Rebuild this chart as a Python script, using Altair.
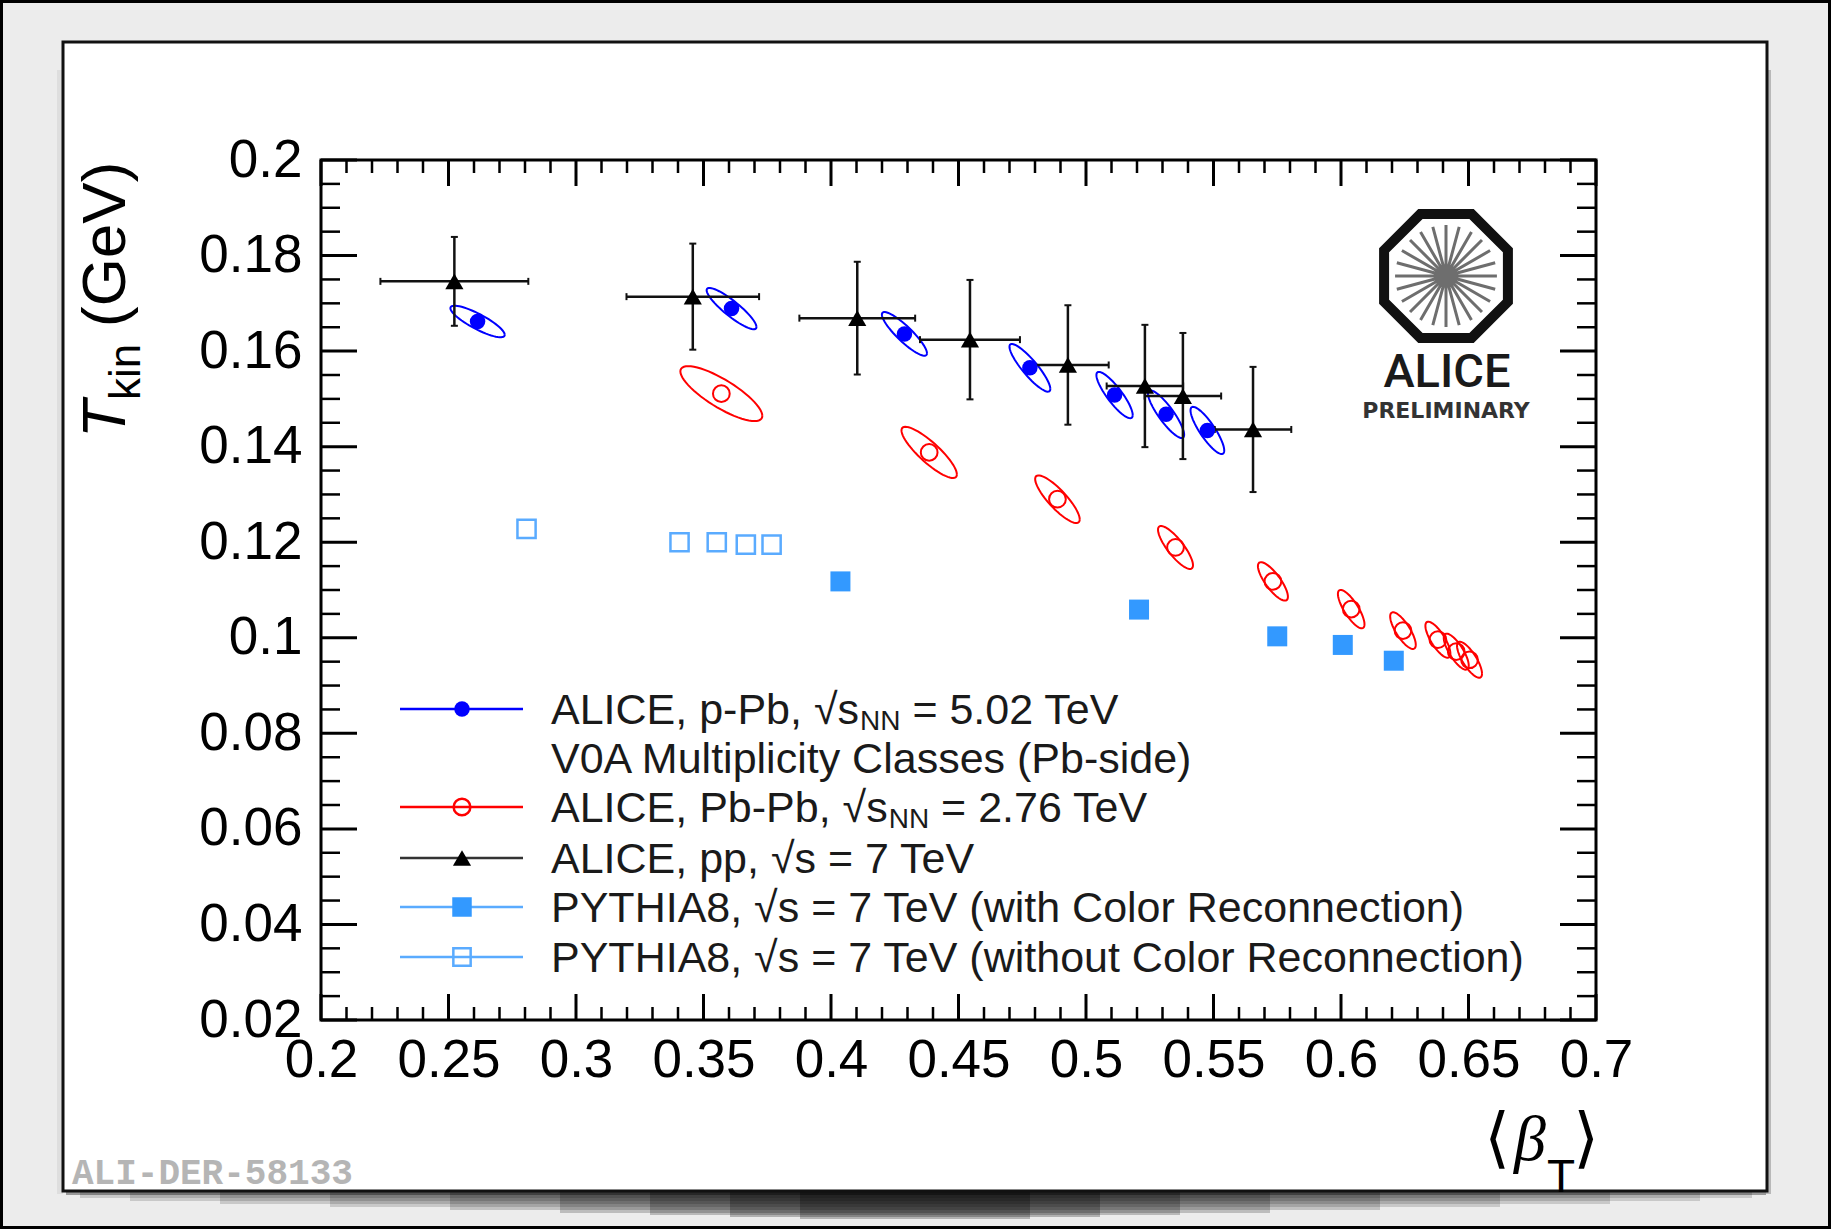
import math
import pandas as pd
import altair as alt

# ------------------------------------------------------------------ data
# ALICE pp, sqrt(s) = 7 TeV  (black triangles, with x and y errors)
pp_beta = [0.2523, 0.3458, 0.4103, 0.4545, 0.4929, 0.5231, 0.5380, 0.5655]
pp_T = [0.1746, 0.1714, 0.1669, 0.1624, 0.1571, 0.1527, 0.1506, 0.1436]
pp_beta_err = [0.0290, 0.0260, 0.0227, 0.0196, 0.0160, 0.0150, 0.0150, 0.0150]
pp_T_err = [0.0093, 0.0111, 0.0118, 0.0125, 0.0125, 0.0128, 0.0132, 0.0131]

# ALICE p-Pb 5.02 TeV (blue filled circles + correlation ellipses)
ppb_beta = [0.2614, 0.3610, 0.4288, 0.4780, 0.5112, 0.5314, 0.5476]
ppb_T = [0.1662, 0.1689, 0.1636, 0.1565, 0.1508, 0.1468, 0.1434]
ppb_sx = [0.01065, 0.00977, 0.00884, 0.00801, 0.00712, 0.00709, 0.00661]
ppb_sy = [0.00330, 0.00432, 0.00457, 0.00499, 0.00485, 0.00499, 0.00494]
ppb_rho = [-0.845, -0.889, -0.886, -0.883, -0.862, -0.864, -0.849]

# ALICE Pb-Pb 2.76 TeV (red open circles + correlation ellipses)
pbpb_beta = [0.3570, 0.4385, 0.4888, 0.5351, 0.5733, 0.6040, 0.6243, 0.6380, 0.6452, 0.6504]
pbpb_T = [0.1511, 0.1388, 0.1290, 0.1189, 0.1118, 0.1060, 0.1015, 0.0996, 0.0971, 0.0954]
pbpb_sx = [0.01607, 0.01086, 0.00874, 0.00686, 0.00588, 0.00521, 0.00502, 0.00490, 0.00490, 0.00490]
pbpb_sy = [0.00575, 0.00536, 0.00498, 0.00450, 0.00402, 0.00402, 0.00383, 0.00377, 0.00377, 0.00377]
pbpb_rho = [-0.810, -0.858, -0.847, -0.826, -0.797, -0.790, -0.773, -0.770, -0.770, -0.770]

# PYTHIA8 7 TeV with / without colour reconnection
cr_beta = [0.4037, 0.5208, 0.5750, 0.6007, 0.6207]
cr_T = [0.1118, 0.1059, 0.1003, 0.0985, 0.0952]
nocr_beta = [0.2806, 0.3406, 0.3552, 0.3666, 0.3767]
nocr_T = [0.1228, 0.1200, 0.1200, 0.1195, 0.1195]

# axis ticks
x_major = [0.2, 0.25, 0.3, 0.35, 0.4, 0.45, 0.5, 0.55, 0.6, 0.65, 0.7]
y_major = [0.02, 0.04, 0.06, 0.08, 0.1, 0.12, 0.14, 0.16, 0.18, 0.2]
x_minor = [round(0.2 + 0.01 * i, 3) for i in range(51) if i % 5]
y_minor = [round(0.02 + 0.005 * i, 4) for i in range(37) if i % 4]

legend_rows = [
    ("ALICE, p-Pb, \u221as", "NN", "= 5.02 TeV"),
    ("V0A Multiplicity Classes (Pb-side)", "", ""),
    ("ALICE, Pb-Pb, \u221as", "NN", "= 2.76 TeV"),
    ("ALICE, pp, \u221as = 7 TeV", "", ""),
    ("PYTHIA8, \u221as = 7 TeV (with Color Reconnection)", "", ""),
    ("PYTHIA8, \u221as = 7 TeV (without Color Reconnection)", "", ""),
]

# ------------------------------------------------------------------ layout
W, H = 1275, 860          # plot area
PX0, PY0 = 321, 160       # plot origin on page
CW, CH = 1831, 1229
BLUE, RED = "#0000ff", "#ff0000"
PY_FILL, PY_OPEN = "#3399ff", "#5aabff"
FONT = "Liberation Sans"

xs = alt.Scale(domain=[0.2, 0.7], nice=False, zero=False)
ys = alt.Scale(domain=[0.02, 0.2], nice=False, zero=False)
common_axis = dict(title=None, grid=False, domain=False, ticks=False, tickSize=0,
                   labelFont=FONT, labelFontSize=53, labelColor="black", zindex=2,
                   labelFlush=False, labelOverlap=False, labelBound=False, format="~g")
xaxis = alt.Axis(values=x_major, labelPadding=14, **common_axis)
yaxis = alt.Axis(values=y_major, labelPadding=19, **common_axis)


def X(f):
    return alt.X(f, type="quantitative", scale=xs, axis=xaxis)


def Y(f):
    return alt.Y(f, type="quantitative", scale=ys, axis=yaxis)


one = pd.DataFrame({"a": [0]})


def px(v):
    return alt.value(v - PX0)


def py(v):
    return alt.value(v - PY0)


def rect(x1, x2, y1, y2, **kw):
    return alt.Chart(one).mark_rect(**kw).encode(x=px(x1), x2=px(x2), y=py(y1), y2=py(y2))


def txt(s, x, y, size, font=FONT, align="left", color="black", **kw):
    return alt.Chart(one).mark_text(text=s, font=font, fontSize=size, align=align,
                                    baseline="alphabetic", color=color, **kw).encode(
        x=px(x), y=py(y))


ARIAL = {" ": 278, ",": 278, "-": 333, ".": 278, "=": 584, "(": 333, ")": 333,
         "A": 667, "C": 722, "E": 667, "I": 278, "L": 556, "N": 722, "P": 667,
         "b": 556, "p": 556, "s": 500, "\u221a": 549}


def tw(s, size):
    return sum(ARIAL.get(c, 556) for c in s) * size / 1000.0


layers = []

# page background, panel and its soft shadow
layers.append(rect(0, CW, 0, CH, fill="#ececec", stroke="black", strokeWidth=6))
for (a, b, h, o) in [(66, 1766, 5, 0.35), (80, 1752, 8, 0.15), (130, 1700, 11, 0.15),
                     (220, 1610, 14, 0.15), (330, 1500, 17, 0.15), (450, 1380, 20, 0.18),
                     (560, 1270, 23, 0.2), (650, 1180, 25, 0.22), (730, 1100, 27, 0.25),
                     (800, 1030, 29, 0.25)]:
    layers.append(rect(a, b, 1190, 1190 + h, fill="black", opacity=o))
layers.append(rect(1766, 1771, 70, 1194, fill="black", opacity=0.22))
layers.append(rect(57, 63, 70, 1194, fill="black", opacity=0.06))
layers.append(rect(63, 1767, 42, 1191, fill="white", stroke="#111111", strokeWidth=3))


# correlation ellipses
def ellipse_df(cx, cy, sx, sy, rho):
    rows = []
    for i in range(len(cx)):
        s = math.sqrt(1 - rho[i] ** 2)
        for k in range(61):
            t = 2 * math.pi * k / 60
            rows.append({"id": i, "k": k,
                         "ex": cx[i] + sx[i] * math.cos(t),
                         "ey": cy[i] + sy[i] * (rho[i] * math.cos(t) + s * math.sin(t))})
    return pd.DataFrame(rows)


for (cx, cy, sx, sy, rho, col) in [(ppb_beta, ppb_T, ppb_sx, ppb_sy, ppb_rho, BLUE),
                                   (pbpb_beta, pbpb_T, pbpb_sx, pbpb_sy, pbpb_rho, RED)]:
    layers.append(alt.Chart(ellipse_df(cx, cy, sx, sy, rho)).mark_line(
        color=col, strokeWidth=2).encode(x=X("ex"), y=Y("ey"), detail="id:N", order="k:Q"))

# pp error bars
pp = pd.DataFrame({"b": pp_beta, "t": pp_T,
                   "xlo": [b - e for b, e in zip(pp_beta, pp_beta_err)],
                   "xhi": [b + e for b, e in zip(pp_beta, pp_beta_err)],
                   "ylo": [t - e for t, e in zip(pp_T, pp_T_err)],
                   "yhi": [t + e for t, e in zip(pp_T, pp_T_err)]})
layers.append(alt.Chart(pp).mark_rule(color="#111111", strokeWidth=2.5).encode(
    x=X("xlo"), x2="xhi", y=Y("t")))
layers.append(alt.Chart(pp).mark_rule(color="#111111", strokeWidth=2.5).encode(
    x=X("b"), y=Y("ylo"), y2="yhi"))
for f in ["xlo", "xhi"]:
    layers.append(alt.Chart(pp).mark_tick(orient="vertical", size=7, thickness=2,
                                          color="#111111", opacity=1).encode(x=X(f), y=Y("t")))
for f in ["ylo", "yhi"]:
    layers.append(alt.Chart(pp).mark_tick(orient="horizontal", size=7, thickness=2,
                                          color="#111111", opacity=1).encode(x=X("b"), y=Y(f)))

# markers
layers.append(alt.Chart(pd.DataFrame({"b": ppb_beta, "t": ppb_T})).mark_point(
    shape="circle", filled=True, size=240, color=BLUE, opacity=1).encode(x=X("b"), y=Y("t")))
layers.append(alt.Chart(pd.DataFrame({"b": pbpb_beta, "t": pbpb_T})).mark_point(
    shape="circle", filled=False, size=280, color=RED, strokeWidth=2, opacity=1).encode(
    x=X("b"), y=Y("t")))
layers.append(alt.Chart(pp).mark_point(shape="triangle-up", filled=True, size=330,
                                       color="black", opacity=1).encode(x=X("b"), y=Y("t")))
layers.append(alt.Chart(pd.DataFrame({"b": cr_beta, "t": cr_T})).mark_point(
    shape="square", filled=True, size=400, color=PY_FILL, opacity=1).encode(x=X("b"), y=Y("t")))
layers.append(alt.Chart(pd.DataFrame({"b": nocr_beta, "t": nocr_T})).mark_point(
    shape="square", filled=False, size=330, color=PY_OPEN, strokeWidth=2.5, opacity=1).encode(
    x=X("b"), y=Y("t")))

# frame and inward ticks on all four sides
layers.append(alt.Chart(one).mark_rect(filled=False, stroke="black", strokeWidth=3).encode(
    x=alt.value(0), x2=alt.value(W), y=alt.value(0), y2=alt.value(H)))
for vals, L, sw in [(x_major, 26, 3), (x_minor, 13, 2.5)]:
    d = pd.DataFrame({"v": vals})
    layers.append(alt.Chart(d).mark_rule(color="black", strokeWidth=sw).encode(
        x=X("v"), y=alt.value(H), y2=alt.value(H - L)))
    layers.append(alt.Chart(d).mark_rule(color="black", strokeWidth=sw).encode(
        x=X("v"), y=alt.value(0), y2=alt.value(L)))
for vals, L, sw in [(y_major, 36, 3), (y_minor, 19, 2.5)]:
    d = pd.DataFrame({"v": vals})
    layers.append(alt.Chart(d).mark_rule(color="black", strokeWidth=sw).encode(
        y=Y("v"), x=alt.value(0), x2=alt.value(L)))
    layers.append(alt.Chart(d).mark_rule(color="black", strokeWidth=sw).encode(
        y=Y("v"), x=alt.value(W), x2=alt.value(W - L)))

# legend
LFS = 43
row_y = [709, 758, 807, 858, 907, 957]
styles = [
    dict(line=BLUE, shape="circle", filled=True, size=240, color=BLUE),
    None,
    dict(line=RED, shape="circle", filled=False, size=280, color=RED),
    dict(line="#333333", shape="triangle-up", filled=True, size=330, color="black"),
    dict(line=PY_OPEN, shape="square", filled=True, size=380, color=PY_FILL),
    dict(line=PY_OPEN, shape="square", filled=False, size=300, color=PY_OPEN),
]
for (seg1, sub, seg3), y, st in zip(legend_rows, row_y, styles):
    if st is not None:
        layers.append(alt.Chart(one).mark_rule(color=st["line"], strokeWidth=2.5).encode(
            x=px(400), x2=px(523), y=py(y)))
        layers.append(alt.Chart(one).mark_point(
            shape=st["shape"], filled=st["filled"], size=st["size"], color=st["color"],
            strokeWidth=2.5, opacity=1).encode(x=px(462), y=py(y)))
    x0 = 551
    layers.append(txt(seg1, x0, y + 15, LFS, color="#1a1a1a"))
    if sub:
        xs_ = x0 + tw(seg1, LFS) + 1
        layers.append(txt(sub, xs_, y + 21, 28, color="#1a1a1a"))
        layers.append(txt(seg3, xs_ + tw(sub, 28) + tw(" ", LFS), y + 15, LFS, color="#1a1a1a"))

# axis titles
layers.append(txt("T", 125, 438, 62, angle=270, fontStyle="italic"))
layers.append(txt("kin", 140, 400, 44, angle=270))
layers.append(txt("(GeV)", 125, 327, 62, angle=270))
layers.append(txt("\u27e8", 1497, 1160, 66, font="DejaVu Serif", align="center"))
layers.append(txt("\u03b2", 1530, 1160, 64, font="Liberation Serif", align="center",
                  fontStyle="italic"))
layers.append(txt("T", 1561, 1192, 46, align="center"))
layers.append(txt("\u27e9", 1586, 1160, 66, font="DejaVu Serif", align="center"))

# watermark
layers.append(txt("ALI-DER-58133", 72, 1184, 36, font="Liberation Mono", color="#b5b5b5",
                  fontWeight="bold"))

# ALICE logo
oct_path = ("M 0.383 -0.924 L 0.924 -0.383 L 0.924 0.383 L 0.383 0.924 L -0.383 0.924 "
            "L -0.924 0.383 L -0.924 -0.383 L -0.383 -0.924 Z")
spokes = []
for k in range(12):
    a = math.pi * k / 12
    c, s = 0.76 * math.cos(a), 0.76 * math.sin(a)
    spokes.append(f"M {-c:.3f} {-s:.3f} L {c:.3f} {s:.3f}")
spoke_path = " ".join(spokes)
LOGO_X, LOGO_Y, LOGO_SIZE = 1446, 276, 134 ** 2
layers.append(alt.Chart(one).mark_point(shape=spoke_path, filled=False, size=LOGO_SIZE,
                                        stroke="#6e6e6e", strokeWidth=3, opacity=1).encode(
    x=px(LOGO_X), y=py(LOGO_Y)))
layers.append(alt.Chart(one).mark_point(shape=oct_path, filled=False, size=LOGO_SIZE,
                                        stroke="#111111", strokeWidth=10, opacity=1).encode(
    x=px(LOGO_X), y=py(LOGO_Y)))
layers.append(txt("ALICE", 1447, 387, 47, font="Roboto", align="center", color="#1a1a1a",
                  fontWeight=500))
layers.append(txt("PRELIMINARY", 1446, 418, 22, font="DejaVu Sans", align="center",
                  color="#333333", fontWeight="bold"))

chart = alt.layer(*layers).properties(
    width=W, height=H,
    autosize=alt.AutoSizeParams(type="none"),
    padding={"left": PX0, "top": PY0, "right": CW - PX0 - W, "bottom": CH - PY0 - H},
    background="#ececec",
).configure_view(strokeWidth=0)

chart.save("out.html", embed_options={"renderer": "svg", "actions": False})
